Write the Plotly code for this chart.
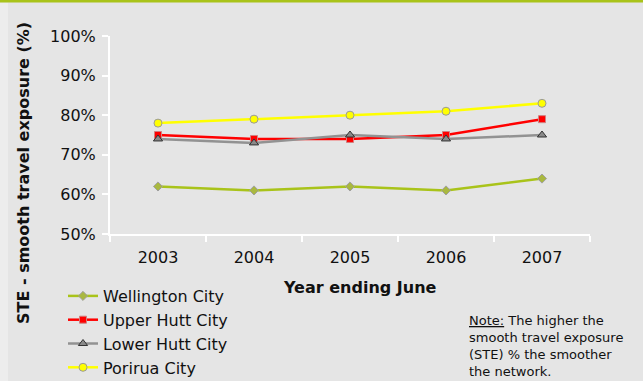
import plotly.graph_objects as go

years = ["2003", "2004", "2005", "2006", "2007"]
wellington = [62, 61, 62, 61, 64]
upper_hutt = [75, 74, 74, 75, 79]
lower_hutt = [74, 73, 75, 74, 75]
porirua = [78, 79, 80, 81, 83]

y_ticks = [50, 60, 70, 80, 90, 100]
y_tick_labels = [f"{v}%" for v in y_ticks]

FONT = "DejaVu Sans, Verdana, sans-serif"
BG = "#e5e5e5"
W, H = 643, 381
ML, MR, MT, MB = 110, 53, 36, 147
PW, PH = W - ML - MR, H - MT - MB


def px_x(x):
    return (x - ML) / PW


def px_y(y):
    return (H - MB - y) / PH


series = [
    ("Wellington City", wellington, "#a9c31a",
     dict(symbol="diamond", size=7, color="#a9b840", line=dict(color="#a0a0a0", width=1))),
    ("Upper Hutt City", upper_hutt, "#ff0000",
     dict(symbol="square", size=7, color="#ff0000", line=dict(color="#d08080", width=1))),
    ("Lower Hutt City", lower_hutt, "#929292",
     dict(symbol="triangle-up", size=8, color="#8a8a8a", line=dict(color="#333333", width=1))),
    ("Porirua City", porirua, "#ffff00",
     dict(symbol="circle", size=8, color="#ffff00", line=dict(color="#9a9a9a", width=1))),
]

fig = go.Figure()
for i, (name, vals, col, marker) in enumerate(series):
    fig.add_trace(go.Scatter(
        x=years, y=vals, name=name, mode="lines+markers",
        line=dict(color=col, width=2.5), marker=marker,
        legendgroup=f"g{i}",
    ))

fig.update_layout(
    width=W, height=H,
    margin=dict(l=ML, r=MR, t=MT, b=MB, autoexpand=False),
    paper_bgcolor=BG, plot_bgcolor=BG,
    font=dict(family=FONT, size=16, color="#111111"),
    showlegend=True,
    legend=dict(
        x=px_x(63), y=px_y(279), xanchor="left", yanchor="top",
        orientation="v", bgcolor="rgba(0,0,0,0)",
        font=dict(family=FONT, size=16, color="#111111"),
        tracegroupgap=0, itemwidth=30,
    ),
    xaxis=dict(
        type="category", range=[-0.5, 4.5],
        showline=True, linecolor="white", linewidth=2,
        ticks="outside", tickson="boundaries", ticklen=6, tickcolor="white", tickwidth=2,
        showgrid=False, zeroline=False, ticklabelstandoff=8,
        tickfont=dict(family=FONT, size=16, color="#111111"),
    ),
    yaxis=dict(
        range=[50, 100], tickvals=y_ticks, ticktext=y_tick_labels,
        showline=True, linecolor="white", linewidth=2,
        ticks="outside", ticklen=6, tickcolor="white", tickwidth=2,
        showgrid=False, zeroline=False, ticklabelstandoff=3,
        tickfont=dict(family=FONT, size=16, color="#111111"),
    ),
    shapes=[
        # green rule across the top edge
        dict(type="rect", xref="paper", yref="paper",
             x0=px_x(-5), x1=px_x(W + 5), y0=px_y(2.5), y1=px_y(-5),
             fillcolor="#a9c31a", line=dict(width=0), layer="above"),
        # lighter strip along the left edge
        dict(type="rect", xref="paper", yref="paper",
             x0=px_x(-5), x1=px_x(8), y0=px_y(H + 5), y1=px_y(2.5),
             fillcolor="#ededed", line=dict(width=0), layer="below"),
    ],
    annotations=[
        dict(text="<b>STE - smooth travel exposure (%)</b>", xref="paper", yref="paper",
             x=px_x(23), y=px_y(173), textangle=-90, showarrow=False,
             xanchor="center", yanchor="middle",
             font=dict(family=FONT, size=16, color="#111111")),
        dict(text="<b>Year ending June</b>", xref="paper", yref="paper",
             x=px_x(360), y=px_y(287), showarrow=False,
             xanchor="center", yanchor="middle",
             font=dict(family=FONT, size=16, color="#111111")),
        dict(text="<u>Note:</u> The higher the<br>smooth travel exposure<br>(STE) % the smoother<br>the network.",
             xref="paper", yref="paper", x=px_x(467), y=px_y(311),
             xanchor="left", yanchor="top", align="left", showarrow=False,
             font=dict(family=FONT, size=13, color="#111111")),
    ],
)

fig.write_html("out.html")
